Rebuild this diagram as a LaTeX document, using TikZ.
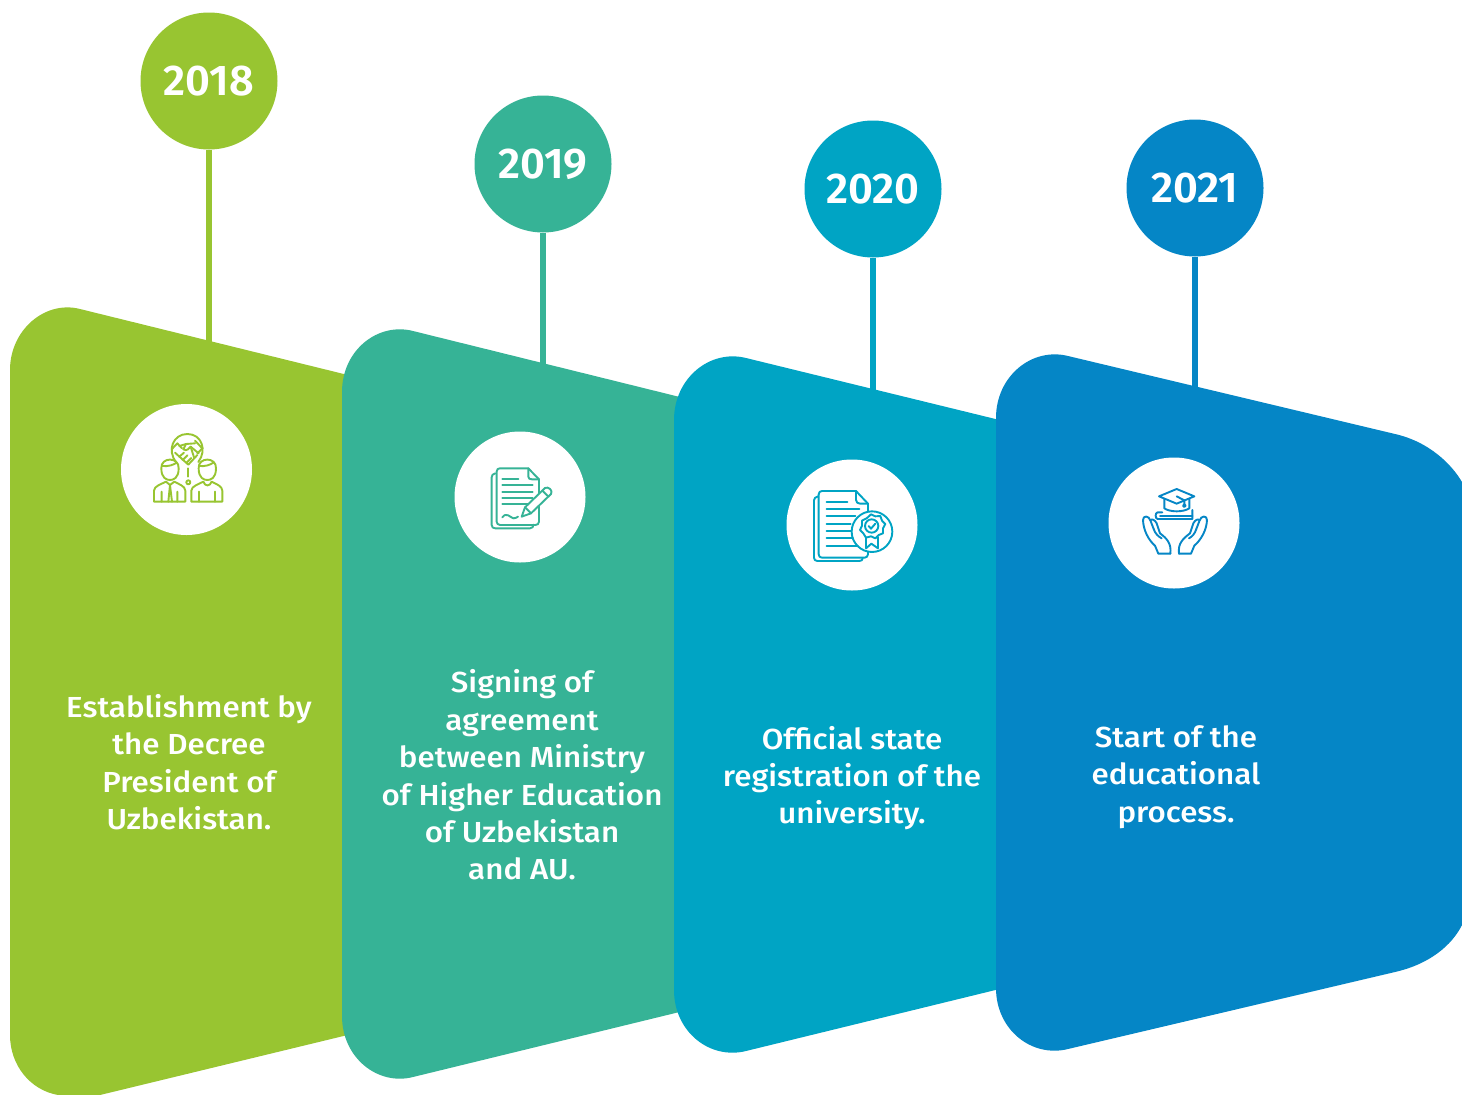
\documentclass[tikz,border=0pt]{standalone}
\usepackage{fontspec}
\setmainfont{Fira Sans}[UprightFont=* Medium,BoldFont=* SemiBold]
\newfontfamily\labelfont{Fira Sans Medium}[FakeStretch=1.08]
\newfontfamily\yearfont{Fira Sans SemiBold}
\definecolor{cg}{HTML}{98C531}
\definecolor{ct}{HTML}{36B396}
\definecolor{cc}{HTML}{00A4C4}
\definecolor{cb}{HTML}{0586C6}
\tikzset{
 year/.style={circle,minimum size=137pt,inner sep=0pt,fill=#1,text=white,font=\yearfont\fontsize{43}{43}\selectfont},
 stem/.style={line width=6pt,draw=#1},
 disc/.style={circle,minimum size=131pt,inner sep=0pt,fill=white},
 label/.style={align=center,text=white,font=\labelfont\fontsize{29}{37.4}\selectfont,inner sep=0pt},
 ic/.style={draw=#1,line width=1.9pt,line cap=round,line join=round,fill=none},
}
\begin{document}
\begin{tikzpicture}[x=1pt,y=-1pt]
\useasboundingbox (0,0) rectangle (1462,1095);
\fill[white] (0,0) rectangle (1462,1095);
% year circles and stems
\node[year=cg] (y18) at (209,81) {\raisebox{1pt}{2018}};
\node[year=ct] (y19) at (543,164) {\raisebox{1pt}{2019}};
\node[year=cc] (y20) at (873,189) {2020};
\node[year=cb] (y21) at (1195,188) {2021};
\coordinate (s18) at (209,345);
\coordinate (s19) at (543,367);
\coordinate (s20) at (873,393);
\coordinate (s21) at (1195,390);
\draw[stem=cg] (y18) -- (s18);
\draw[stem=ct] (y19) -- (s19);
\draw[stem=cc] (y20) -- (s20);
\draw[stem=cb] (y21) -- (s21);
% panels
\fill[cg] (10,370) .. controls (10,330) and (45,300) .. (80,309) -- (360,378) -- (360,1032) -- (100,1095) -- (58,1095) .. controls (30,1090) and (10,1065) .. (10,1035) -- cycle;
\fill[ct] (342,392) .. controls (342,350) and (378,322) .. (413,331) -- (700,402) -- (700,1007) -- (413,1077) .. controls (378,1086) and (342,1058) .. (342,1016) -- cycle;
\fill[cc] (674,420) .. controls (674,378) and (710,349) .. (746,358) -- (1020,425) -- (1020,984) -- (746,1051) .. controls (710,1060) and (674,1032) .. (674,990) -- cycle;
\fill[cb] (996,418) .. controls (996,376) and (1032,347) .. (1068,356) -- (1395,434) .. controls (1430,442) and (1452,465) .. (1462,482) -- (1462,925) .. controls (1452,945) and (1430,964) .. (1395,972) -- (1068,1049) .. controls (1032,1058) and (996,1030) .. (996,988) -- cycle;
% discs
\node[disc] (d18) at (186.5,469.5) {};
\node[disc] (d19) at (520,497) {};
\node[disc] (d20) at (852,525) {};
\node[disc] (d21) at (1174,523) {};
% labels
\node[label] (t18) at (189,762) {Establishment by\\the Decree\\President of\\Uzbekistan.};
\node[label] (t19) at (522,775) {Signing of\\agreement\\between Ministry\\of Higher Education\\of Uzbekistan\\and AU.};
\node[label] (t20) at (852,778) {Official state\\registration of the\\university.};
\node[label] (t21) at (1176,777) {Start of the\\educational\\process.};
% icon 1
\begin{scope}[shift={(120,400)},x=0.3333pt,y=-0.3333pt,ic=cg]
\draw (168,186) .. controls (140,150) and (160,102) .. (202,102) .. controls (245,102) and (262,150) .. (235,186);
\draw (155,148) -- (172,130) -- (186,145) (225,122) -- (247,145) -- (232,160);
\draw (178,138) -- (198,132) -- (225,130);
\draw (198,132) -- (190,148) .. controls (200,155) and (208,145) .. (212,140) -- (236,160);
\draw (165,158) -- (205,194) -- (232,165);
\draw (178,170) -- (192,158) (188,180) -- (202,166) (200,188) -- (214,174) (212,140) -- (222,172);
\draw (205,205) -- (205,230);
\draw (205,247) circle[radius=6];
\draw (124,205) .. controls (122,170) and (178,170) .. (176,205) .. controls (176,235) and (160,240) .. (150,240) .. controls (140,240) and (124,235) .. (124,205);
\draw (126,198) .. controls (145,200) and (160,195) .. (170,188);
\draw (236,205) .. controls (234,170) and (290,170) .. (288,205) .. controls (288,235) and (272,240) .. (262,240) .. controls (252,240) and (236,235) .. (236,205);
\draw (238,198) .. controls (255,200) and (270,195) .. (280,188);
\draw (102,305) -- (102,272) .. controls (102,258) and (125,252) .. (138,245) -- (150,255) -- (163,245) .. controls (175,252) and (196,258) .. (196,272) -- (196,305) -- cycle;
\draw (125,305) -- (125,275) (172,305) -- (172,275) (150,255) -- (145,305) (150,255) -- (156,305);
\draw (214,305) -- (214,272) .. controls (214,258) and (238,252) .. (250,245) .. controls (255,260) and (270,260) .. (275,245) .. controls (288,252) and (307,258) .. (307,272) -- (307,305) -- cycle;
\draw (238,305) -- (238,275) (285,305) -- (285,275);
\end{scope}
% icon 2
\begin{scope}[shift={(450,430)},x=0.3333pt,y=-0.3333pt,ic=ct]
\draw (136,130) .. controls (128,132) and (125,136) .. (125,142) -- (125,285) .. controls (125,292) and (130,295) .. (136,295) -- (240,295) .. controls (248,295) and (250,290) .. (250,284);
\draw (140,125) .. controls (140,118) and (144,115) .. (150,115) -- (235,115) -- (267,148) -- (267,275) .. controls (267,282) and (262,285) .. (256,285) -- (150,285) .. controls (144,285) and (140,280) .. (140,275) -- cycle;
\draw (235,115) -- (235,140) .. controls (235,146) and (240,148) .. (246,148) -- (267,148);
\draw (157,147) -- (205,147) (157,166) -- (248,166) (157,185) -- (248,185) (157,204) -- (248,204) (157,223) -- (235,223);
\draw (157,262) .. controls (170,245) and (180,262) .. (190,265) .. controls (195,266) and (200,262) .. (204,260);
\fill[white] (215,260) -- (225,232) -- (285,174) .. controls (295,168) and (310,182) .. (303,192) -- (243,250) -- cycle;
\draw (215,260) -- (225,232) -- (285,174) .. controls (295,168) and (310,182) .. (303,192) -- (243,250) -- cycle;
\draw (225,232) -- (243,250) (277,182) -- (295,200);
\end{scope}
% icon 3
\begin{scope}[shift={(782,455)},x=0.3333pt,y=-0.3333pt,ic=cc]
\draw (108,124) .. controls (100,126) and (96,130) .. (96,136) -- (96,308) .. controls (96,314) and (100,318) .. (106,318) -- (232,318) .. controls (238,318) and (242,315) .. (242,310);
\draw (110,118) .. controls (110,112) and (114,108) .. (120,108) -- (222,108) -- (258,146) -- (258,170);
\draw (110,118) -- (110,298) .. controls (110,304) and (114,308) .. (120,308) -- (248,308) .. controls (253,308) and (258,304) .. (258,298) -- (258,290);
\draw (222,108) -- (222,135) .. controls (222,142) and (228,146) .. (234,146) -- (258,146);
\draw (134,140) -- (196,140) (134,162) -- (232,162) (134,184) -- (220,184) (134,206) -- (206,206) (134,228) -- (206,228) (134,250) -- (212,250) (134,272) -- (228,272);
\draw (270,230) circle[radius=61];
\draw (267,178) -- (280,184) -- (295,183) -- (300,197) -- (310,207) -- (303,220) -- (303,235) -- (290,240) -- (280,250) -- (267,244) -- (252,248) -- (244,235) -- (234,225) -- (240,212) -- (240,197) -- (254,190) -- cycle;
\draw (269,213) circle[radius=20];
\draw (260,213) -- (267,221) -- (280,206);
\draw (252,247) -- (252,280) -- (268,266) -- (288,280) -- (288,247);
\end{scope}
% icon 4
\begin{scope}[shift={(1105,455)},x=0.3333pt,y=-0.3333pt,ic=cb]
\draw (162,124) -- (215,102) -- (268,124) -- (215,146) -- cycle;
\draw (178,132) -- (178,160) .. controls (195,172) and (235,172) .. (253,160) -- (253,132);
\draw (215,124) -- (238,136) -- (238,148);
\draw (238,152) circle[radius=4];
\draw (172,172) -- (158,172) .. controls (150,172) and (150,192) .. (158,192) -- (262,192) -- (262,165);
\draw (165,183) -- (262,183);
\draw (196,296) -- (160,296) -- (150,272) .. controls (130,255) and (115,225) .. (114,195) .. controls (114,180) and (132,182) .. (136,196) -- (146,222);
\draw (136,196) .. controls (140,190) and (150,195) .. (155,205) -- (165,235);
\draw (146,222) .. controls (150,235) and (160,245) .. (170,250);
\draw (165,235) .. controls (185,250) and (200,265) .. (196,296);
\draw (222,296) -- (258,296) -- (268,272) .. controls (288,255) and (305,225) .. (306,195) .. controls (306,180) and (288,182) .. (284,196) -- (274,222);
\draw (284,196) .. controls (280,190) and (270,195) .. (265,205) -- (255,235);
\draw (274,222) .. controls (270,235) and (262,245) .. (252,250);
\draw (255,235) .. controls (235,250) and (218,265) .. (222,296);
\end{scope}
\end{tikzpicture}
\end{document}
